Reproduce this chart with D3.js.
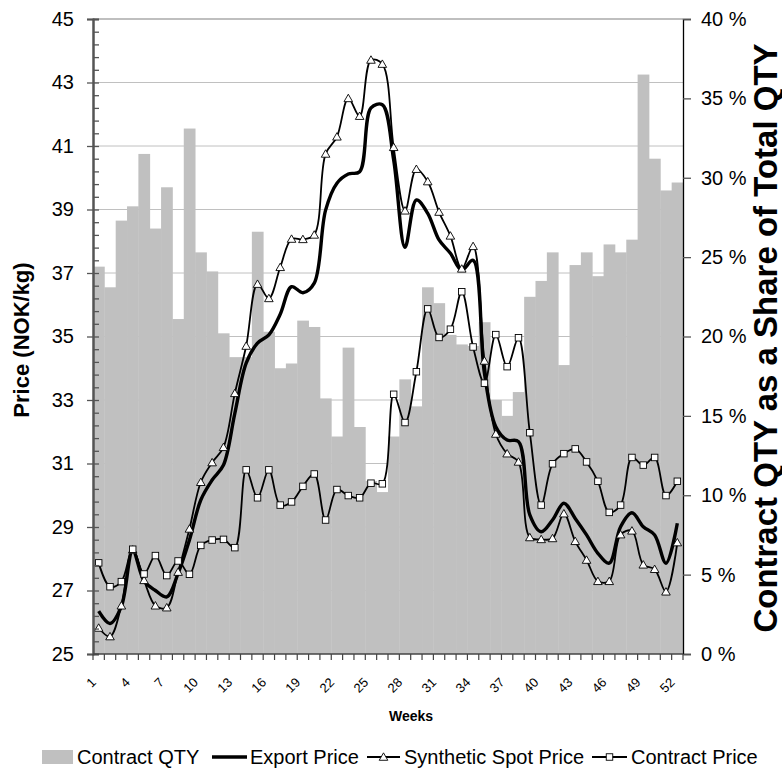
<!DOCTYPE html>
<html><head><meta charset="utf-8">
<script src="https://cdn.jsdelivr.net/npm/d3@7"></script>
<style>body{margin:0;background:#fff}text{font-family:"Liberation Sans",Arial,sans-serif;fill:#000}</style>
</head><body>
<svg id="c" width="782" height="769"></svg>
<script>
const weeks = d3.range(1, 53);
const xTickLabels = [1,4,7,10,13,16,19,22,25,28,31,34,37,40,43,46,49,52];
const leftTicks = [25,27,29,31,33,35,37,39,41,43,45];
const rightTicks = [0,5,10,15,20,25,30,35,40];

const contractQty = [24.4,23.1,27.3,28.2,31.5,26.8,29.4,21.1,33.1,25.3,
  24.1,20.2,18.7,18.7,26.6,20.3,18.0,18.3,21.0,20.6,
  16.1,13.7,19.3,14.3,10.9,10.2,13.7,17.3,15.6,23.1,
  22.1,20.1,19.5,19.4,20.9,16.0,15.0,16.5,22.5,23.5,
  25.3,18.2,24.5,25.3,23.8,25.8,25.3,26.1,36.5,31.2,
  29.2,29.7];
const exportPrice = [26.35,25.96,26.5,28.25,27.3,27.0,26.8,27.54,28.59,29.85,
  30.48,30.95,32.58,34.16,34.79,35.05,35.7,36.57,36.38,36.68,
  38.98,39.83,40.12,40.19,42.2,42.3,40.56,37.81,39.30,38.88,
  38.04,37.62,37.09,37.4,33.84,32.16,31.74,31.69,29.38,28.85,
  29.22,29.75,29.27,28.75,28.17,27.86,29.01,29.45,29.01,28.75,
  27.86,29.12];
const syntheticSpot = [25.82,25.55,26.52,28.28,27.32,26.52,26.46,27.58,28.94,30.41,
  31.03,31.51,33.21,34.70,36.65,36.20,37.18,38.07,38.06,38.20,
  40.75,41.29,42.50,41.94,43.71,43.58,40.96,38.96,40.27,39.88,
  38.92,38.17,37.13,37.84,34.23,31.93,31.31,31.05,28.67,28.61,
  28.64,29.42,28.55,27.96,27.29,27.29,28.76,28.88,27.81,27.67,
  26.96,28.51];
const contractPrice = [27.87,27.12,27.28,28.30,27.52,28.10,27.47,27.93,27.51,28.42,
  28.59,28.61,28.35,30.80,29.92,30.80,29.69,29.79,30.28,30.67,
  29.22,30.18,29.99,29.92,30.38,30.36,33.18,32.29,33.89,35.87,
  34.97,35.23,36.41,34.67,33.53,35.06,34.05,34.96,31.97,29.69,
  30.99,31.31,31.46,31.05,30.44,29.46,29.69,31.19,30.95,31.19,
  29.99,30.44];

const svg = d3.select("#c");
const X0 = 93, X1 = 683, Y0 = 19, Y1 = 654;
const x = d3.scaleBand().domain(weeks).range([X0, X1]).padding(0);
const yL = d3.scaleLinear().domain([25, 45]).range([Y1, Y0]);
const yR = d3.scaleLinear().domain([0, 40]).range([Y1, Y0]);
const cx = w => x(w) + x.bandwidth() / 2;

// gridlines
svg.append("g").selectAll("line").data(leftTicks.filter(d => d > 25 && d < 45)).join("line")
  .attr("x1", X0).attr("x2", X1).attr("y1", d => yL(d)).attr("y2", d => yL(d))
  .attr("stroke", "#c0c0c0").attr("stroke-width", 1);
svg.append("line").attr("x1", X0).attr("x2", X1).attr("y1", yL(45)).attr("y2", yL(45))
  .attr("stroke", "#808080").attr("stroke-width", 1.2);

// bars
svg.append("g").selectAll("rect").data(contractQty).join("rect")
  .attr("x", (d, i) => x(weeks[i])).attr("width", x.bandwidth() + 0.4)
  .attr("y", d => yR(d)).attr("height", d => yR(0) - yR(d))
  .attr("fill", "#c0c0c0");

// lines
const curve = d3.curveCatmullRom.alpha(0.5);
const lineL = d3.line().x((d, i) => cx(weeks[i])).y(d => yL(d)).curve(curve);
svg.append("path").attr("d", lineL(exportPrice)).attr("fill", "none")
  .attr("stroke", "#000").attr("stroke-width", 3.4);
svg.append("path").attr("d", lineL(syntheticSpot)).attr("fill", "none")
  .attr("stroke", "#000").attr("stroke-width", 1.8);
svg.append("path").attr("d", lineL(contractPrice)).attr("fill", "none")
  .attr("stroke", "#000").attr("stroke-width", 1.8);

const tri = d3.symbol().type(d3.symbolTriangle).size(32);
svg.append("g").selectAll("path").data(syntheticSpot).join("path")
  .attr("d", tri).attr("transform", (d, i) => `translate(${cx(weeks[i])},${yL(d)+0.8})`)
  .attr("fill", "#fff").attr("stroke", "#000").attr("stroke-width", 0.9);
svg.append("g").selectAll("rect").data(contractPrice).join("rect")
  .attr("x", (d, i) => cx(weeks[i]) - 3.25).attr("y", d => yL(d) - 3.25)
  .attr("width", 6.5).attr("height", 6.5)
  .attr("fill", "#fff").attr("stroke", "#000").attr("stroke-width", 0.9);

// left axis
const gL = svg.append("g").attr("transform", `translate(${X0},0)`);
gL.call(d3.axisLeft(yL).tickValues(leftTicks).tickSize(6).tickPadding(13).tickFormat(d3.format("d")));
gL.append("g").call(d3.axisRight(yL).tickValues(d3.range(0, 51).map(i => 25 + i * 0.4)).tickSize(6).tickFormat(""));
gL.selectAll("path.domain").attr("stroke", "#555").attr("stroke-width", 2);
gL.selectAll("line").attr("stroke", "#555").attr("stroke-width", 1.3);
gL.selectAll("text").attr("font-size", 20).style("font-family", "Liberation Sans, Arial, sans-serif");

// right axis
const gR = svg.append("g").attr("transform", `translate(${X1},0)`);
gR.call(d3.axisRight(yR).tickValues(rightTicks).tickSize(8).tickPadding(10).tickFormat(d => d + " %"));
gR.selectAll("path.domain").attr("stroke", "#000").attr("stroke-width", 1.3);
gR.selectAll("line").attr("stroke", "#555").attr("stroke-width", 1.3);
gR.selectAll("text").attr("font-size", 20).style("font-family", "Liberation Sans, Arial, sans-serif");

// bottom axis
const gB = svg.append("g").attr("transform", `translate(0,${Y1})`);
gB.append("line").attr("x1", X0).attr("x2", X1).attr("stroke", "#444").attr("stroke-width", 1.5);
gB.selectAll("line.t").data(weeks.map(w => x(w)).concat([X1])).join("line").attr("class", "t")
  .attr("x1", d => d).attr("x2", d => d).attr("y1", 0).attr("y2", 6)
  .attr("stroke", "#444").attr("stroke-width", 1.2);
gB.selectAll("text").data(xTickLabels).join("text")
  .attr("transform", d => `translate(${cx(d) - 5},${26}) rotate(-45)`)
  .attr("text-anchor", "end").attr("dominant-baseline", "central")
  .attr("font-size", 13).text(d => d);

// titles
svg.append("text").attr("x", 411).attr("y", 716).attr("text-anchor", "middle")
  .attr("dominant-baseline", "central").attr("font-size", 14).attr("font-weight", "bold").text("Weeks");
svg.append("text").attr("transform", "translate(21,340) rotate(-90)").attr("text-anchor", "middle")
  .attr("dominant-baseline", "central").attr("font-size", 22).attr("font-weight", "bold").text("Price (NOK/kg)");
svg.append("text").attr("transform", "translate(765,338) rotate(-90)").attr("text-anchor", "middle")
  .attr("dominant-baseline", "central").attr("font-size", 33).attr("font-weight", "bold")
  .text("Contract QTY as a Share of Total QTY");

// legend
const lg = svg.append("g").attr("transform", "translate(0,757)");
lg.append("rect").attr("x", 42).attr("y", -7).attr("width", 31).attr("height", 14).attr("fill", "#c0c0c0");
lg.append("text").attr("x", 77).attr("dominant-baseline", "central").attr("font-size", 20).text("Contract QTY");
lg.append("line").attr("x1", 212).attr("x2", 247).attr("stroke", "#000").attr("stroke-width", 3.4);
lg.append("text").attr("x", 250).attr("dominant-baseline", "central").attr("font-size", 20).text("Export Price");
lg.append("line").attr("x1", 367).attr("x2", 400).attr("stroke", "#000").attr("stroke-width", 1.8);
lg.append("path").attr("d", tri).attr("transform", "translate(383.5,0.8)").attr("fill", "#fff").attr("stroke", "#000").attr("stroke-width", 0.9);
lg.append("text").attr("x", 404).attr("dominant-baseline", "central").attr("font-size", 20).text("Synthetic Spot Price");
lg.append("line").attr("x1", 592).attr("x2", 627).attr("stroke", "#000").attr("stroke-width", 1.8);
lg.append("rect").attr("x", 606.25).attr("y", -3.25).attr("width", 6.5).attr("height", 6.5).attr("fill", "#fff").attr("stroke", "#000").attr("stroke-width", 0.9);
lg.append("text").attr("x", 631).attr("dominant-baseline", "central").attr("font-size", 20).text("Contract Price");
</script>
</body></html>
